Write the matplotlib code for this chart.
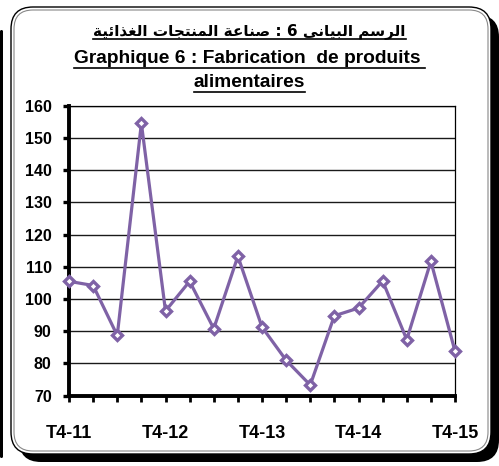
import matplotlib
matplotlib.use('Agg')
import matplotlib.pyplot as plt
from matplotlib.patches import FancyBboxPatch
from matplotlib.lines import Line2D

W, H = 499, 466

###########################
# Data
###########################

tick_labels = ['T4-11', 'T4-12', 'T4-13', 'T4-14', 'T4-15']
values = [105.5, 104.2, 88.7, 154.5, 96.3, 105.5, 90.8, 113.3, 91.3,
          81.0, 73.3, 94.8, 97.2, 105.6, 87.4, 111.7, 83.8]

title_ar = 'الرسم البيانى 6 : صناعة المنتجات الغذائية'
title_fr1 = 'Graphique 6 : Fabrication  de produits '
title_fr2 = 'alimentaires'

LINE_COLOR = '#7f62a6'


###########################
# Arabic shaping (no bidi libs available)
###########################

# isolated, final, initial, medial (None -> does not join the next letter)
FORMS = {
    'ا': ('\ufe8d', '\ufe8e', None, None),
    'ب': ('\ufe8f', '\ufe90', '\ufe91', '\ufe92'),
    'ة': ('\ufe93', '\ufe94', None, None),
    'ت': ('\ufe95', '\ufe96', '\ufe97', '\ufe98'),
    'ج': ('\ufe9d', '\ufe9e', '\ufe9f', '\ufea0'),
    'ذ': ('\ufeab', '\ufeac', None, None),
    'ر': ('\ufead', '\ufeae', None, None),
    'س': ('\ufeb1', '\ufeb2', '\ufeb3', '\ufeb4'),
    'ص': ('\ufeb9', '\ufeba', '\ufebb', '\ufebc'),
    'ع': ('\ufec9', '\ufeca', '\ufecb', '\ufecc'),
    'غ': ('\ufecd', '\ufece', '\ufecf', '\ufed0'),
    'ل': ('\ufedd', '\ufede', '\ufedf', '\ufee0'),
    'م': ('\ufee1', '\ufee2', '\ufee3', '\ufee4'),
    'ن': ('\ufee5', '\ufee6', '\ufee7', '\ufee8'),
    'ى': ('\ufeef', '\ufef0', None, None),
    'ي': ('\ufef1', '\ufef2', '\ufef3', '\ufef4'),
    'ئ': ('\ufe89', '\ufe8a', '\ufe8b', '\ufe8c'),
}

def shape(text):
    out = []
    for i, c in enumerate(text):
        if c not in FORMS:
            out.append(c)
            continue
        prev = text[i - 1] if i > 0 else None
        nxt = text[i + 1] if i + 1 < len(text) else None
        join_prev = prev in FORMS and FORMS[prev][2] is not None
        join_next = nxt in FORMS and FORMS[c][2] is not None
        iso, fin, ini, med = FORMS[c]
        if join_prev and join_next:
            out.append(med)
        elif join_prev:
            out.append(fin)
        elif join_next:
            out.append(ini)
        else:
            out.append(iso)
    return ''.join(reversed(out))


###########################
# Figure
###########################

fig = plt.figure(figsize=(W / 100, H / 100), dpi=100)

# frame in pixel coords
bg = fig.add_axes([0, 0, 1, 1])
bg.set_xlim(0, W)
bg.set_ylim(H, 0)
bg.axis('off')
bg.add_patch(FancyBboxPatch((0, 30), 3, 428, boxstyle='round,pad=0,rounding_size=1.5',
                            fc='black', ec='none'))
bg.add_patch(FancyBboxPatch((19, 15), 480, 447, boxstyle='round,pad=0,rounding_size=22',
                            fc='black', ec='none'))
bg.add_patch(FancyBboxPatch((11, 7), 480, 447, boxstyle='round,pad=0,rounding_size=22',
                            fc='white', ec='black', lw=1.0))
bg.add_patch(FancyBboxPatch((14, 10), 474, 441, boxstyle='round,pad=0,rounding_size=19',
                            fc='none', ec='#888888', lw=0.8))

# titles
t_ar = fig.text(0.5, 1 - 35 / H, shape(title_ar), ha='center', va='baseline',
                fontsize=11, fontweight='bold', family=['DejaVu Sans'])
t_fr1 = fig.text(0.5, 1 - 63 / H, title_fr1, ha='center', va='baseline',
                 fontsize=13.8, fontweight='bold', family=['Liberation Sans'])
t_fr2 = fig.text(0.5, 1 - 87 / H, title_fr2, ha='center', va='baseline',
                 fontsize=13.8, fontweight='bold', family=['Liberation Sans'])

# plot area
ax = fig.add_axes([69 / W, 1 - 395.7 / H, 386 / W, 290 / H])
x = list(range(len(values)))
ax.plot(x, values, color=LINE_COLOR, lw=2.3, marker='D', ms=5.5, mew=2.4,
        mfc='white', mec=LINE_COLOR, clip_on=False, zorder=5)

ax.set_xlim(0, len(values) - 1)
ax.set_ylim(70, 160)
ax.set_yticks(range(70, 161, 10))
ax.set_xticks(x)
ax.set_xticklabels([tick_labels[i // 4] if i % 4 == 0 else '' for i in x])
ax.grid(axis='y', color='#1a1a1a', lw=1.0)
ax.set_axisbelow(True)

for lbl in ax.get_xticklabels() + ax.get_yticklabels():
    lbl.set_family('Liberation Sans')
    lbl.set_fontweight('bold')
ax.tick_params(axis='y', labelsize=11.5, length=4, width=2.4, pad=8.5)
ax.tick_params(axis='x', labelsize=13, length=4, width=2, pad=17)

ax.spines['left'].set_linewidth(2.8)
ax.spines['bottom'].set_linewidth(2.8)
ax.spines['top'].set_linewidth(0.9)
ax.spines['right'].set_linewidth(0.9)

# underline the titles
fig.canvas.draw()
renderer = fig.canvas.get_renderer()
for t in (t_ar, t_fr1, t_fr2):
    bb = t.get_window_extent(renderer)
    y = bb.y0 - 0.5
    fig.add_artist(Line2D([bb.x0 / W, bb.x1 / W], [y / H, y / H], color='black',
                          lw=1.2, transform=fig.transFigure))

fig.savefig('out.png', dpi=100)
